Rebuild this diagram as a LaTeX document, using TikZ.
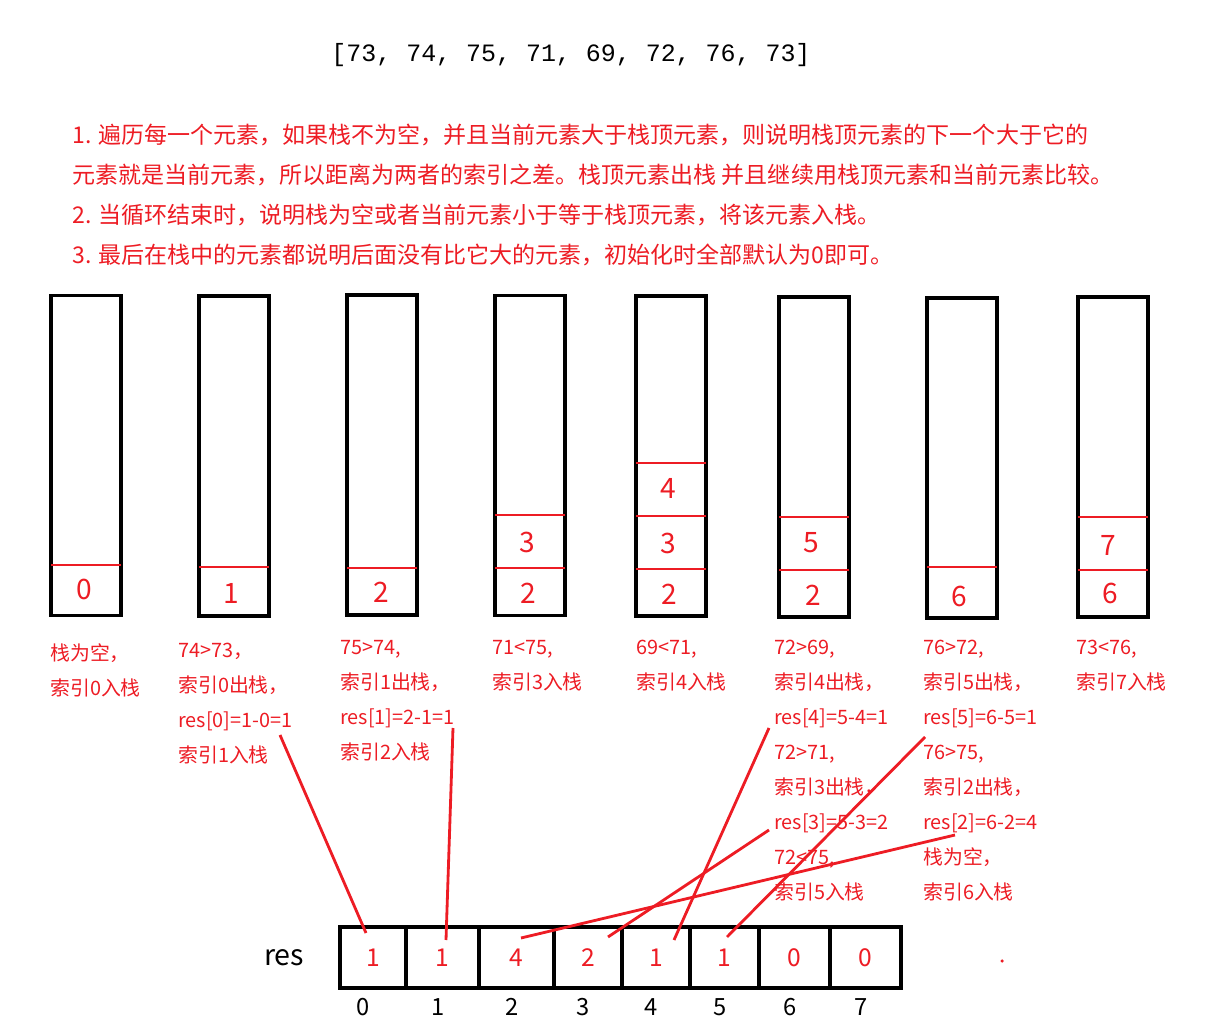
\documentclass[tikz,border=0pt]{standalone}
\usepackage{fontspec}
\setmainfont{Noto Sans CJK SC}
\newfontfamily\monofont{Liberation Mono}
\usetikzlibrary{positioning}
\definecolor{penred}{RGB}{237,28,36}

\begin{document}
\begin{tikzpicture}[
    x=0.02cm, y=-0.02cm,
    stackbox/.style={draw, line width=1.8pt, minimum width=1.4cm, minimum height=6.4cm, inner sep=0pt},
    divider/.style={penred, line width=1.5pt},
    stacknum/.style={text=penred, font=\fontsize{16}{18}\selectfont},
    note/.style={text=penred, anchor=north west, align=left, inner sep=0pt, font=\fontsize{11.3}{19.9}\selectfont},
    cell/.style={draw, line width=1.8pt, minimum height=1.22cm, inner sep=0pt, text=penred, font=\fontsize{14}{16}\selectfont},
    idx/.style={inner sep=0pt, xshift=-0.09cm, font=\fontsize{13.5}{15}\selectfont},
    link/.style={penred, line width=1.6pt}
]
\useasboundingbox (0,0) rectangle (1211,1023);

% ============ INPUT AND RULES ============
\node[font=\monofont\fontsize{14.2}{16}\selectfont] (arr) at (571,55) {[73, 74, 75, 71, 69, 72, 76, 73]};

\node[note, font=\fontsize{13.1}{22.7}\selectfont] (rules) at (72,124) {
    1. 遍历每一个元素，如果栈不为空，并且当前元素大于栈顶元素，则说明栈顶元素的下一个大于它的\\
    元素就是当前元素，所以距离为两者的索引之差。栈顶元素出栈 并且继续用栈顶元素和当前元素比较。\\
    2. 当循环结束时，说明栈为空或者当前元素小于等于栈顶元素，将该元素入栈。\\
    3. 最后在栈中的元素都说明后面没有比它大的元素，初始化时全部默认为0即可。
};

% ============ STACK AFTER EACH STEP ============
\node[stackbox] (st0) at (86,455.5) {};
\node[stackbox] (st1) at (234,456) {};
\node[stackbox] (st2) at (382,455) {};
\node[stackbox] (st3) at (530,455.5) {};
\node[stackbox] (st4) at (671,456) {};
\node[stackbox] (st5) at (814,457) {};
\node[stackbox] (st6) at (962,458) {};
\node[stackbox] (st7) at (1113,457) {};

% Cell borders inside the stacks
\draw[divider] (51,565) -- (121,565);
\draw[divider] (199,567) -- (269,567);
\draw[divider] (347,568) -- (417,568);
\draw[divider] (495,515) -- (565,515);
\draw[divider] (495,568) -- (565,568);
\draw[divider] (636,463) -- (706,463);
\draw[divider] (636,516) -- (706,516);
\draw[divider] (636,569) -- (706,569);
\draw[divider] (779,517) -- (849,517);
\draw[divider] (779,570) -- (849,570);
\draw[divider] (927,567) -- (997,567);
\draw[divider] (1078,517) -- (1148,517);
\draw[divider] (1078,570) -- (1148,570);

% Indices held in the stacks
\node[stacknum] (s0a) at (84,589) {0};
\node[stacknum] (s1a) at (231,593) {1};
\node[stacknum] (s2a) at (381,592) {2};
\node[stacknum] (s3a) at (528,593) {2};
\node[stacknum] (s3b) at (527,542) {3};
\node[stacknum] (s4a) at (669,594) {2};
\node[stacknum] (s4b) at (668,543) {3};
\node[stacknum] (s4c) at (668,488) {4};
\node[stacknum] (s5a) at (813,595) {2};
\node[stacknum] (s5b) at (811,543) {5};
\node[stacknum] (s6a) at (959,596) {6};
\node[stacknum] (s7a) at (1110,593) {6};
\node[stacknum] (s7b) at (1108,545) {7};

% Step notes
\node[note] (n0) at (50,643) {栈为空，\\索引0入栈};
\node[note] (n1) at (178,643) {74>73，\\索引0出栈，\\res[0]=1-0=1\\索引1入栈};
\node[note] (n2) at (340,640) {75>74,\\索引1出栈，\\res[1]=2-1=1\\索引2入栈};
\node[note] (n3) at (492,640) {71<75,\\索引3入栈};
\node[note] (n4) at (636,640) {69<71,\\索引4入栈};
\node[note] (n5) at (774,640) {72>69,\\索引4出栈，\\res[4]=5-4=1\\72>71,\\索引3出栈，\\res[3]=5-3=2\\72<75,\\索引5入栈};
\node[note] (n6) at (923,640) {76>72,\\索引5出栈，\\res[5]=6-5=1\\76>75,\\索引2出栈，\\res[2]=6-2=4\\栈为空，\\索引6入栈};
\node[note] (n7) at (1076,640) {73<76,\\索引7入栈};

% ============ RESULT ARRAY ============
\node[cell, minimum width=1.32cm] (c0) at (373,957.5) {1};
\node[cell, minimum width=1.46cm] (c1) at (442.5,957.5) {1};
\node[cell, minimum width=1.5cm] (c2) at (516.5,957.5) {4};
\node[cell, minimum width=1.36cm] (c3) at (588,957.5) {2};
\node[cell, minimum width=1.36cm] (c4) at (656,957.5) {1};
\node[cell, minimum width=1.38cm] (c5) at (724.5,957.5) {1};
\node[cell, minimum width=1.42cm] (c6) at (794.5,957.5) {0};
\node[cell, minimum width=1.42cm] (c7) at (865.5,957.5) {0};

\node[left=0.68cm of c0, inner sep=0pt, font=\fontsize{16.3}{19}\selectfont] (reslabel) {res};

\node[idx, below=0.17cm of c0, xshift=-0.11cm] (i0) {0};
\node[idx, below=0.17cm of c1] (i1) {1};
\node[idx, below=0.17cm of c2] (i2) {2};
\node[idx, below=0.17cm of c3] (i3) {3};
\node[idx, below=0.17cm of c4] (i4) {4};
\node[idx, below=0.17cm of c5] (i5) {5};
\node[idx, below=0.17cm of c6] (i6) {6};
\node[idx, below=0.17cm of c7] (i7) {7};

\fill[penred] (1002,961) circle[radius=1pt];

% Links from each res[i] note to its cell
\coordinate (from0) at (280,735);
\coordinate (from1) at (453,728);
\coordinate (from2) at (955,835);
\coordinate (from3) at (769,830);
\coordinate (from4) at (769,728);
\coordinate (from5) at (925,737);

\draw[link] (from0) -- ([shift={(-7,-24.5)}]c0.center);
\draw[link] (from1) -- ([shift={(3.5,-17.5)}]c1.center);
\draw[link] (from2) -- ([shift={(4.5,-19.5)}]c2.center);
\draw[link] (from3) -- ([shift={(20,-20.5)}]c3.center);
\draw[link] (from4) -- ([shift={(18,-17.5)}]c4.center);
\draw[link] (from5) -- ([shift={(2.5,-20.5)}]c5.center);

\end{tikzpicture}
\end{document}
